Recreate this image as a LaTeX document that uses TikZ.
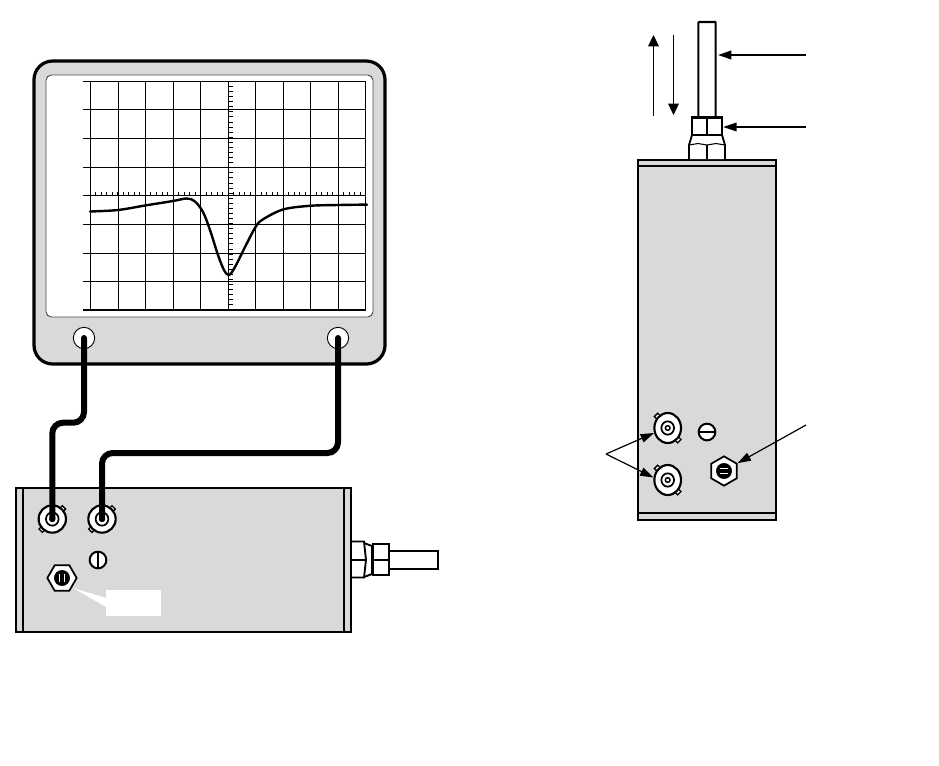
\documentclass[tikz,border=0pt]{standalone}
\usepackage{tikz}
\usetikzlibrary{positioning,shapes.geometric,arrows.meta,calc}
\definecolor{panelgray}{HTML}{D9D9D9}

\tikzset{
	panel/.style={draw=black,fill=panelgray,line width=1.5pt},
	strip/.style={draw=black,line width=1.1pt},
	gridline/.style={draw=black,line width=0.85pt},
	tick/.style={draw=black,line width=0.6pt},
	knob/.style={circle,draw=black,fill=white,line width=0.7pt,inner sep=0pt,minimum size=16pt},
	cable/.style={draw=black,line width=4.5pt,line cap=round,rounded corners=8pt},
	bncbody/.style={ellipse,draw=black,fill=white,line width=1.6pt,inner sep=0pt},
	bncring/.style={ellipse,draw=black,fill=white,line width=1.3pt,inner sep=0pt},
	bncpin/.style={circle,draw=black,fill=white,line width=1.1pt,inner sep=0pt,minimum size=3.5pt},
	lug/.style={rectangle,draw=black,fill=white,line width=1pt,inner sep=0pt,minimum size=3.5pt},
	screwhead/.style={circle,draw=black,fill=white,line width=1.5pt,inner sep=0pt,minimum size=12.5pt},
	hexnut/.style={regular polygon,regular polygon sides=6,draw=black,fill=white,line width=1.3pt,inner sep=0pt,minimum size=22pt},
	hexcore/.style={circle,draw=black,fill=black,inner sep=0pt,minimum size=11.5pt},
	hexslot/.style={draw=white,line width=0.9pt},
	pointer/.style={draw=black,line width=0.8pt,-{Triangle[length=8.5pt,width=8pt]}},
	longpointer/.style={draw=black,line width=0.9pt,-{Triangle[length=10pt,width=6.5pt]}},
	hardware/.style={draw=black,fill=white,line width=1.4pt},
}

% name, position, lug offset x, lug offset y, lug angle, width, height
\newcommand{\bncjack}[7]{
	\node[lug,rotate=#5] (#1lugA) at ($#2+(#3,#4)$) {};
	\node[lug,rotate=#5] (#1lugB) at ($#2-(#3,#4)$) {};
	\node[bncbody,minimum width=#6pt,minimum height=#7pt] (#1) at #2 {};
	\node[bncring,minimum width=9.5pt,minimum height=10pt] (#1ring) at #2 {};
	\node[bncpin] (#1pin) at #2 {};
}

\begin{document}
\begin{tikzpicture}[x=0.75pt,y=-0.75pt]
	\useasboundingbox (0,0) rectangle (939,765);
	
	% oscilloscope
	\draw[panel,line width=2.4pt,rounded corners=14pt] (34,61) rectangle (385,364);
	\draw[draw=black!70,fill=white,line width=0.7pt,rounded corners=4pt] (46,75) rectangle (373,317);
	\foreach \xgrid in {90.3,118.3,145.7,173.3,200.3,228.7,255.3,283.3,310.3,338.3,365.7}
		\draw[gridline] (\xgrid,81) -- (\xgrid,310);
	\foreach \ygrid in {81.3,109.6,138.3,167.3,195.3,224.3,253.3,281.3,310}
		\draw[gridline] (82.7,\ygrid) -- (365.7,\ygrid);
	\foreach \xtick in {0,...,50}
		\draw[tick] ({90.3+\xtick*5.508},195.3) -- ++(0,-3.8);
	\foreach \ytick in {0,...,45}
		\draw[tick] (228.7,{81.3+\ytick*5.08}) -- ++(3.8,0);
	% trace
	\draw[black,line width=1.8pt,line cap=round] plot[smooth,tension=0.55] coordinates {
		(90,211.5) (118,210) (145,205.5) (173,201) (187,198.5) (195,201.5) (203,212) (210,230) (218,255)
		(224,270) (229,275) (235,267) (245,247) (255,228) (262,220) (283,209.5) (310,205.8) (338,205) (367,204.6)};
	\node[knob] (knobL) at (84,338) {};
	\node[knob] (knobR) at (338,338) {};
	
	% left probe box
	\draw[panel] (16,488) rectangle (351,632);
	\draw[strip] (23,488) -- (23,632);
	\draw[strip] (344,488) -- (344,632);
	\bncjack{bncA}{(52.3,519)}{10}{-10}{45}{20.5}{20.5}
	\bncjack{bncB}{(102,519)}{10}{-10}{45}{20.5}{20.5}
	\node[screwhead] (screwA) at (98,560) {};
	\draw[black,line width=1.8pt] (screwA.north) -- (screwA.south);
	\node[hexnut] (hexA) at (62,578) {};
	\node[hexcore] (coreA) at (hexA) {};
	\draw[hexslot] ($(coreA.center)+(-2.6,-4)$) -- ++(0,8);
	\draw[hexslot] ($(coreA.center)+(2.6,-4)$) -- ++(0,8);
	\coordinate (tagtip) at (73.3,588);
	\fill[white] (tagtip) -- (106,598) -- (106,607) -- cycle;
	\node[fill=white,inner sep=0pt,minimum width=41.2pt,minimum height=19.5pt] (tagbox) at (133.5,603) {};
	
	% cables
	\draw[cable] (knobL.center) -- (84,422.7) -- (52.3,422.7) -- (bncA.center);
	\draw[cable] (knobR.center) |- (102,453) -- (bncB.center);
	
	% left probe stem
	\draw[hardware] (389,551) rectangle (438,569);
	\draw[hardware,fill=none] (364,543) -- (372,546) -- (372,574) -- (364,577);
	\draw[hardware] (351,541.5) -- (364,541.5) -- (366,560) -- (364,577.5) -- (351,577.5) -- cycle;
	\draw[hardware] (351,560) -- (366,560);
	\draw[hardware] (373,544) rectangle (389,575);
	\draw[hardware] (373,560) -- (389,560);
	
	% right probe box
	\draw[panel] (638,159.5) rectangle (776,520);
	\draw[strip] (638,166) -- (776,166);
	\draw[strip] (638,513) -- (776,513);
	\draw[hardware] (689,159) -- (689,145) -- (692,135) -- (722,135) -- (725,145) -- (725,159);
	\draw[hardware,line width=0.8pt] (689,145) -- (698,143.5) -- (707,145) -- (716,143.5) -- (725,145);
	\draw[hardware] (707,145) -- (707,159);
	\node[draw=black,fill=white,line width=1.6pt,inner sep=0pt,minimum width=13pt,minimum height=72pt,rounded corners=0.5pt] (rod) at (707,70) {};
	\node[draw=black,fill=white,line width=1.8pt,inner sep=0pt,minimum width=22.5pt,minimum height=13pt] (nut) at (707,126.3) {};
	\draw[hardware] (nut.north) -- (nut.south);
	\bncjack{bncC}{(667.7,428)}{-10}{-11.5}{45}{20}{22.5}
	\bncjack{bncD}{(667.7,480)}{-10}{-11.5}{45}{20}{22.5}
	\node[screwhead] (screwB) at (707,432) {};
	\draw[black,line width=2pt] (screwB.west) -- (screwB.east);
	\node[hexnut,shape border rotate=30] (hexB) at (724,471) {};
	\node[hexcore] (coreB) at (hexB) {};
	\draw[hexslot] ($(coreB.center)+(-4,-2.6)$) -- ++(8,0);
	\draw[hexslot] ($(coreB.center)+(-4,2.6)$) -- ++(8,0);
	
	% pointers
	\coordinate (fork) at (606,454);
	\coordinate (rodfar) at (806,55);
	\coordinate (nutfar) at (806,127);
	\coordinate (hexfar) at (806,425);
	\coordinate (upA) at (653.5,116);
	\coordinate (upB) at (653.5,35);
	\coordinate (downA) at (673.5,35);
	\coordinate (downB) at (673.5,115);
	\draw[pointer] (upA) -- (upB);
	\draw[pointer] (downA) -- (downB);
	\draw[longpointer,line width=1.4pt,shorten >=1pt] (rodfar) -- (rod.east |- rodfar);
	\draw[longpointer] (nutfar) -- (nut.east |- nutfar);
	\draw[longpointer] (fork) -- (bncC.200);
	\draw[longpointer] (fork) -- (bncD.170);
	\draw[longpointer] (hexfar) -- (hexB.30);
\end{tikzpicture}
\end{document}
